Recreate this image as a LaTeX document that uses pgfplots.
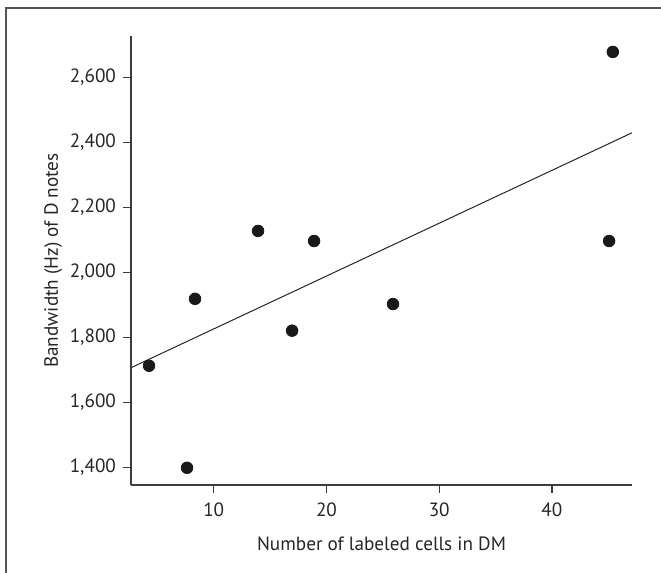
\documentclass[border=0pt]{standalone}
\usepackage{pgfplots}
\pgfplotsset{compat=1.18}
\usepackage{fontspec}
\setmainfont{PT Sans}
\usetikzlibrary{calc}

\definecolor{framegray}{RGB}{85,85,85}
\definecolor{axisgray}{RGB}{60,60,60}

\begin{document}
\begin{tikzpicture}
\begin{axis}[
    name=ax,
    scale only axis,
    width=250.5pt, height=224.5pt,
    xmin=2.66, xmax=47.1,
    ymin=1345, ymax=2727,
    axis lines=left,
    axis line style={-, axisgray, line width=0.7pt},
    tick align=outside,
    major tick length=4pt,
    tick style={axisgray, line width=0.6pt},
    xtick={10,20,30,40},
    ytick={1400,1600,1800,2000,2200,2400,2600},
    /pgf/number format/assume math mode=true,
    /pgf/number format/1000 sep={,},
    ticklabel style={font=\fontsize{9.6}{11}\selectfont, text=black!85},
    xticklabel style={yshift=-1.5pt},
    label style={font=\fontsize{9.6}{11}\selectfont, text=black!85},
    xlabel={Number of labeled cells in DM},
    xlabel style={yshift=-3pt},
    ylabel={Bandwidth (Hz) of D notes},
    ylabel style={yshift=-3pt},
    clip=false,
]
\addplot[only marks, mark=*, mark size=2.9pt, black!90, mark options={fill=black!90}] coordinates {
    (4.26,1712) (7.63,1398) (8.34,1918) (13.93,2127) (16.95,1820)
    (18.9,2096) (25.9,1902) (45.07,2096) (45.4,2678)
};
\addplot[black!85, line width=0.5pt] coordinates {(2.66,1706) (47.1,2429)};
\end{axis}
\draw[framegray, line width=1pt] ($(ax.south west)+(-62.5pt,-44pt)$) -- ($(ax.north west)+(-62.5pt,14pt)$) -- ($(ax.north east)+(14.5pt,14pt)$);
\pgfresetboundingbox
\path[use as bounding box] ($(ax.south west)+(-65.5pt,-44pt)$) rectangle ($(ax.north east)+(14.5pt,18pt)$);
\end{tikzpicture}
\end{document}
